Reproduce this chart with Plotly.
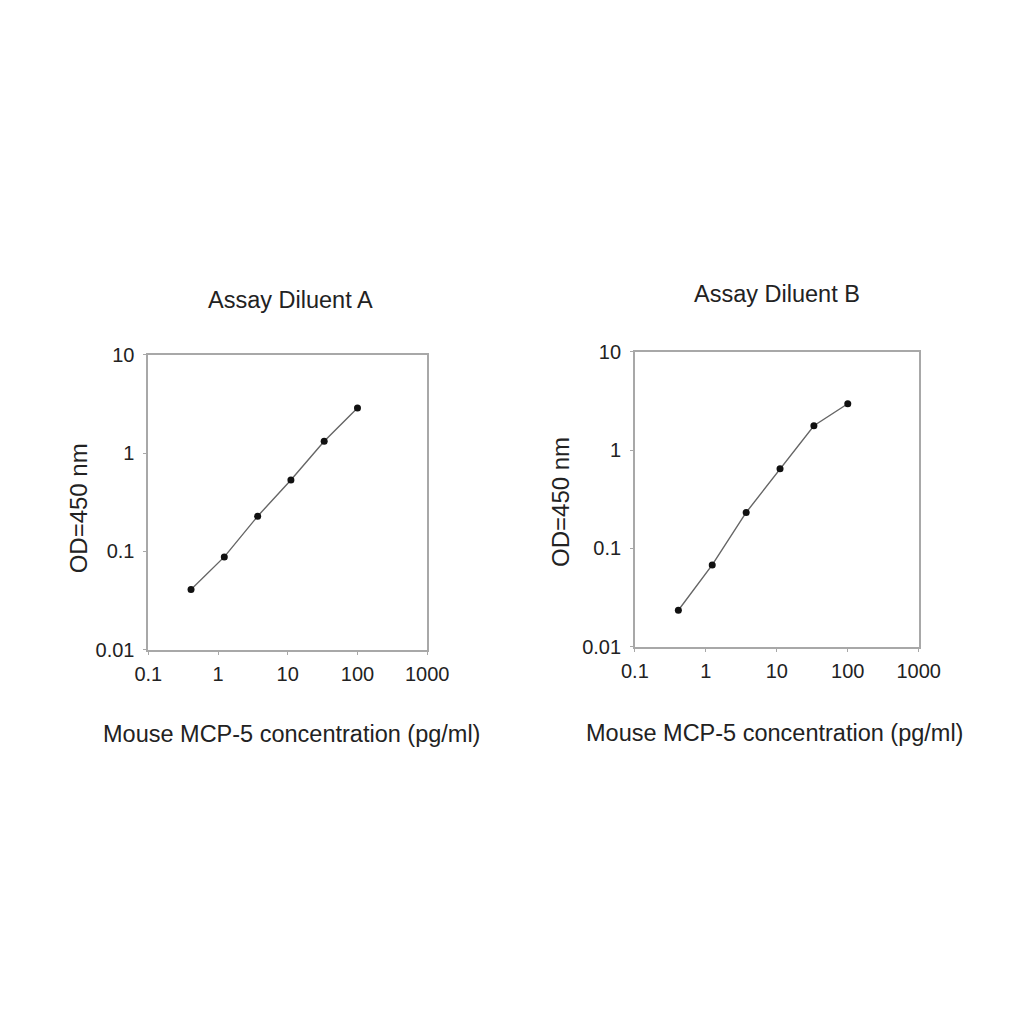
import plotly.graph_objects as go

conc = [0.41, 1.23, 3.7, 11.1, 33.3, 100]
od_a = [0.041, 0.088, 0.228, 0.533, 1.32, 2.87]
od_b = [0.0235, 0.068, 0.232, 0.645, 1.77, 2.96]

x_ticks = [0.1, 1, 10, 100, 1000]
x_labels = ["0.1", "1", "10", "100", "1000"]
y_ticks = [0.01, 0.1, 1, 10]
y_labels = ["0.01", "0.1", "1", "10"]

titles = ["Assay Diluent A", "Assay Diluent B"]
x_title = "Mouse MCP-5 concentration (pg/ml)"
y_title = "OD=450 nm"

W = 1008
OFF = 8
# the photographed page comes out slightly shrunk; undo that here
S = 0.975
CX, CY = 9.5, 10.5

def fx(v):
    return ((v - CX) / S - OFF) / W

def fy(v):
    return 1 - ((v - CY) / S - OFF) / W

fig = go.Figure()

fig.add_trace(go.Scatter(x=conc, y=od_a, mode="lines+markers", xaxis="x", yaxis="y",
                         line=dict(color="#666666", width=1.4),
                         marker=dict(color="#111111", size=7), showlegend=False))
fig.add_trace(go.Scatter(x=conc, y=od_b, mode="lines+markers", xaxis="x2", yaxis="y2",
                         line=dict(color="#666666", width=1.4),
                         marker=dict(color="#111111", size=7), showlegend=False))

axis_common = dict(type="log", showgrid=False, zeroline=False, showline=True, mirror=True,
                   linecolor="#a8a8a8", linewidth=1.6, ticks="outside", ticklen=3,
                   tickcolor="#a8a8a8",
                   tickfont=dict(family="Liberation Sans, Arial", size=20, color="#222222"))

fig.update_layout(
    width=W, height=W,
    margin=dict(l=0, r=0, t=0, b=0),
    paper_bgcolor="white", plot_bgcolor="white",
    xaxis=dict(axis_common, domain=[fx(145), fx(427)], range=[-1, 3], anchor="y",
               tickvals=x_ticks, ticktext=x_labels, ticklabelstandoff=2),
    yaxis=dict(axis_common, domain=[fy(647), fy(353)], range=[-2, 1], anchor="x",
               tickvals=y_ticks, ticktext=y_labels, ticklabelstandoff=5),
    xaxis2=dict(axis_common, domain=[fx(637), fx(924)], range=[-1, 3], anchor="y2",
                tickvals=x_ticks, ticktext=x_labels, ticklabelstandoff=2),
    yaxis2=dict(axis_common, domain=[fy(644), fy(350)], range=[-2, 1], anchor="x2",
                tickvals=y_ticks, ticktext=y_labels, ticklabelstandoff=5),
)

ann = [
    (289, 298, titles[0], 0, 23.5),
    (781, 292, titles[1], 0, 23.5),
    (290, 731, x_title, 0, 23.5),
    (778, 730, x_title, 0, 23.5),
    (74, 506, y_title, -90, 24),
    (562, 500, y_title, -90, 24),
]
for x, y, t, ang, sz in ann:
    fig.add_annotation(x=fx(x), y=fy(y), xref="paper", yref="paper", text=t,
                       showarrow=False, textangle=ang,
                       font=dict(family="Liberation Sans, Arial", size=sz, color="#222222"),
                       xanchor="center", yanchor="middle")

fig.write_html("out.html")
